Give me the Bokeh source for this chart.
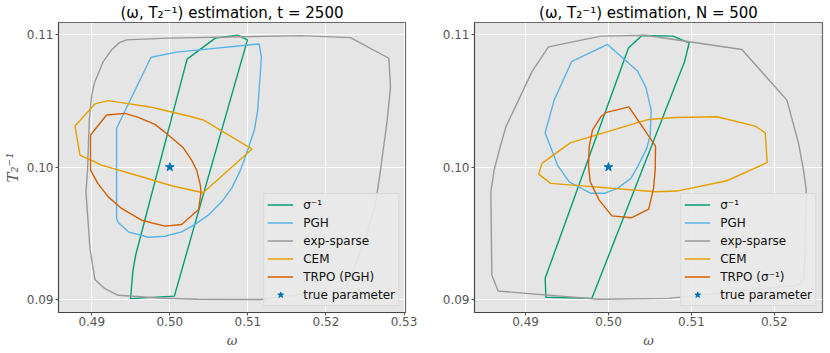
from bokeh.plotting import figure
from bokeh.layouts import row
from bokeh.models import FixedTicker, Legend, LegendItem, PrintfTickFormatter, Range1d
from bokeh.embed import file_html
from bokeh.resources import INLINE

# ---------------- data: left panel (t = 2500) ----------------
L_sig_w = [0.50583, 0.50869, 0.50994, 0.50058, 0.49497, 0.49528, 0.49562, 0.50221]
L_sig_T = [0.10974, 0.10996, 0.10961, 0.09026, 0.09007, 0.09221, 0.09334, 0.10815]

L_pgh_w = [0.49759, 0.50087, 0.51144, 0.51173, 0.51126, 0.51083, 0.50968, 0.50904, 0.50792, 0.50664,
           0.50494, 0.50323, 0.50151, 0.49938, 0.49724, 0.49468, 0.49340, 0.49318, 0.49318]
L_pgh_T = [0.10830, 0.10868, 0.10930, 0.10830, 0.10431, 0.10280, 0.10078, 0.09977, 0.09839, 0.09738,
           0.09637, 0.09567, 0.09511, 0.09478, 0.09470, 0.09511, 0.09582, 0.09612, 0.10293]

L_exp_w = [0.49353, 0.49446, 0.49981, 0.51673, 0.52314, 0.52805, 0.52827, 0.52785, 0.52699, 0.52635,
           0.52528, 0.52400, 0.52250, 0.51160, 0.50365, 0.49853, 0.49340, 0.49169, 0.49041, 0.48977,
           0.48926, 0.48946, 0.48968, 0.48997, 0.49032, 0.49147, 0.49254]
L_exp_T = [0.10940, 0.10961, 0.10974, 0.10993, 0.10978, 0.10822, 0.10607, 0.10356, 0.09977, 0.09725,
           0.09498, 0.09297, 0.09082, 0.09000, 0.09002, 0.09011, 0.09032, 0.09082, 0.09151, 0.09385,
           0.09813, 0.09977, 0.10356, 0.10532, 0.10633, 0.10797, 0.10885]

L_cem_w = [0.48785, 0.49041, 0.49212, 0.49767, 0.50279, 0.50429, 0.51054, 0.50426, 0.50023, 0.49638,
           0.49126, 0.48849]
L_cem_T = [0.10310, 0.10477, 0.10502, 0.10452, 0.10380, 0.10356, 0.10136, 0.09806, 0.09859, 0.09927,
           0.10015, 0.10091]

L_trpo_w = [0.49190, 0.49426, 0.49596, 0.49810, 0.49981, 0.50173, 0.50279, 0.50344, 0.50391, 0.50400,
            0.50369, 0.50151, 0.49938, 0.49638, 0.49382, 0.49212, 0.49077, 0.48985, 0.48985]
L_trpo_T = [0.10393, 0.10406, 0.10376, 0.10323, 0.10242, 0.10146, 0.10053, 0.09977, 0.09864, 0.09813,
            0.09680, 0.09567, 0.09554, 0.09599, 0.09688, 0.09775, 0.09877, 0.09977, 0.10242]

# ---------------- data: right panel (N = 500) ----------------
R_sig_w = [0.50241, 0.50403, 0.50777, 0.50973, 0.50917, 0.49800, 0.49245, 0.49236]
R_sig_T = [0.10900, 0.10994, 0.10989, 0.10938, 0.10795, 0.09009, 0.09017, 0.09160]

R_pgh_w = [0.49554, 0.49988, 0.50350, 0.50451, 0.50515, 0.50503, 0.50463, 0.50350, 0.50270, 0.50109,
           0.49948, 0.49788, 0.49526, 0.49385, 0.49236, 0.49345]
R_pgh_T = [0.10796, 0.10926, 0.10725, 0.10602, 0.10430, 0.10242, 0.10143, 0.10002, 0.09915, 0.09839,
           0.09802, 0.09802, 0.09889, 0.10015, 0.10260, 0.10506]

R_exp_w = [0.49276, 0.49908, 0.50443, 0.51609, 0.52152, 0.52292, 0.52352, 0.52385, 0.52361, 0.52292,
           0.50724, 0.49879, 0.48669, 0.48593, 0.48581, 0.48621, 0.48694, 0.48762, 0.49076]
R_exp_T = [0.10908, 0.10989, 0.10996, 0.10888, 0.10506, 0.10179, 0.09977, 0.09826, 0.09162, 0.09109,
           0.09009, 0.09002, 0.09064, 0.09185, 0.09814, 0.09977, 0.10153, 0.10304, 0.10719]

R_cem_w = [0.49197, 0.49538, 0.50483, 0.50805, 0.51308, 0.51770, 0.51890, 0.51914, 0.51428, 0.50825,
           0.50563, 0.49303, 0.49158]
R_cem_T = [0.10028, 0.10183, 0.10360, 0.10375, 0.10380, 0.10309, 0.10259, 0.10035, 0.09897, 0.09819,
           0.09814, 0.09877, 0.09947]

R_trpo_w = [0.49966, 0.50246, 0.50567, 0.50563, 0.50543, 0.50485, 0.50274, 0.50041, 0.49888, 0.49779,
            0.49759, 0.49767, 0.49807, 0.49908]
R_trpo_T = [0.10411, 0.10455, 0.10158, 0.09977, 0.09839, 0.09683, 0.09617, 0.09632, 0.09751, 0.09889,
            0.10015, 0.10153, 0.10279, 0.10380]

true_w = [0.50]
true_T = [0.10]

L_xticks = [0.49, 0.50, 0.51, 0.52, 0.53]
R_xticks = [0.49, 0.50, 0.51, 0.52]
yticks = [0.09, 0.10, 0.11]

labels_common = ["σ⁻¹", "PGH", "exp-sparse", "CEM"]
L_trpo_label = "TRPO (PGH)"
R_trpo_label = "TRPO (σ⁻¹)"
L_title = "(ω, T₂⁻¹) estimation, t = 2500"
R_title = "(ω, T₂⁻¹) estimation, N = 500"
x_label = "ω"
y_label = "T₂⁻¹"

colors = ["#009E73", "#56B4E9", "#999999", "#E69F00", "#D55E00"]
star_color = "#0072B2"


def closed(a):
    return list(a) + [a[0]]


def panel(title, xr, xticks, series, trpo_label, show_ylabel, fw, mbl, mbr):
    p = figure(frame_width=fw, frame_height=290, output_backend="svg", toolbar_location=None,
               x_range=Range1d(*xr), y_range=Range1d(0.08902, 0.11092),
               min_border_left=mbl, min_border_right=mbr, min_border_top=0, min_border_bottom=0)
    p.title.text = title
    p.title.text_font = "DejaVu Sans"
    p.title.text_font_size = "15px"
    p.title.text_font_style = "normal"
    p.title.text_color = "#000000"
    p.title.align = "center"
    p.title.standoff = 2
    p.background_fill_color = "#E5E5E5"
    p.border_fill_color = "white"
    p.outline_line_color = "#666666"
    p.outline_line_width = 1.2
    p.grid.grid_line_color = "white"
    p.grid.grid_line_width = 1
    p.xaxis.ticker = FixedTicker(ticks=xticks)
    p.yaxis.ticker = FixedTicker(ticks=yticks)
    for ax in (p.xaxis[0], p.yaxis[0]):
        ax.formatter = PrintfTickFormatter(format="%.2f")
        ax.major_label_text_font = "DejaVu Sans"
        ax.major_label_text_font_size = "12px"
        ax.major_label_text_color = "#555555"
        ax.major_tick_in = 0
        ax.major_tick_out = 3
        ax.major_tick_line_color = "#555555"
        ax.minor_tick_line_color = None
        ax.axis_line_color = "#444444"
        ax.axis_label_text_font = "DejaVu Serif"
        ax.axis_label_text_font_style = "italic"
        ax.axis_label_text_color = "#555555"
    p.xaxis.axis_label_text_font_size = "13px"
    p.yaxis.axis_label_text_font_size = "15px"
    p.xaxis.major_label_standoff = 1
    p.xaxis.axis_label_standoff = 4
    p.yaxis.major_label_standoff = 2
    p.yaxis.axis_label_standoff = 2
    p.xaxis.axis_label = x_label
    if show_ylabel:
        p.yaxis.axis_label = y_label

    items = []
    labels = labels_common + [trpo_label]
    for (w, t), c, lab in zip(series, colors, labels):
        r = p.line(closed(w), closed(t), line_color=c, line_width=1.4)
        items.append(LegendItem(label=lab, renderers=[r]))
    s = p.scatter(true_w, true_T, marker="star", size=9, color=star_color)
    items.append(LegendItem(label="true parameter", renderers=[s]))

    leg = Legend(items=items, location="bottom_right", margin=6, padding=3, spacing=3,
                 label_height=15, glyph_height=15, glyph_width=26, label_standoff=10,
                 label_text_font="DejaVu Sans", label_text_font_size="12px",
                 label_text_color="#111111",
                 background_fill_color="#E9E9E9", background_fill_alpha=0.9,
                 border_line_color="#CCCCCC", border_line_width=1)
    p.add_layout(leg, "center")
    return p


p1 = panel(L_title, (0.48574, 0.53019), L_xticks,
           [(L_sig_w, L_sig_T), (L_pgh_w, L_pgh_T), (L_exp_w, L_exp_T), (L_cem_w, L_cem_T), (L_trpo_w, L_trpo_T)],
           L_trpo_label, True, 347, 58, 13)
p2 = panel(R_title, (0.48384, 0.52581), R_xticks,
           [(R_sig_w, R_sig_T), (R_pgh_w, R_pgh_T), (R_exp_w, R_exp_T), (R_cem_w, R_cem_T), (R_trpo_w, R_trpo_T)],
           R_trpo_label, False, 348, 56, 7)

layout = row(p1, p2)
open("out.html", "w").write(file_html(layout, INLINE))
